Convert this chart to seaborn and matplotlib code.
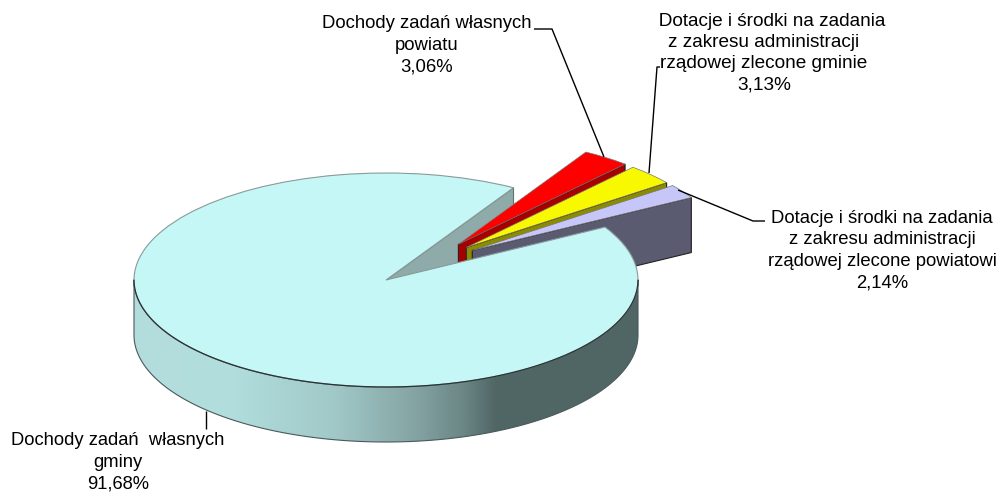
import numpy as np
import matplotlib
matplotlib.use("Agg")
import matplotlib.pyplot as plt
from matplotlib.patches import Wedge, Polygon
from matplotlib.colors import LinearSegmentedColormap
import seaborn as sns

# --- data ---
labels = [
    "Dochody zadań  własnych\ngminy",
    "Dochody zadań własnych\npowiatu",
    "   Dotacje i środki na zadania\nz zakresu administracji\nrządowej zlecone gminie",
    "Dotacje i środki na zadania\nz zakresu administracji\nrządowej zlecone powiatowi",
]
values = [91.68, 3.06, 3.13, 2.14]
value_text = ["91,68%", "3,06%", "3,13%", "2,14%"]

# --- style ---
top_colors = ["#c4f7f6", "#ff0000", "#f8f800", "#c6c6f8"]
side_colors = ["#8eabaa", "#a80000", "#8c8c00", "#5a5a70"]
wall_stops = [(0.0, "#b4dcdc"), (0.19, "#b2dede"), (0.40, "#a0c8c7"),
              (0.55, "#86a6a5"), (0.65, "#6c8887"), (0.72, "#506665"), (1.0, "#506665")]
label_sizes = [13.2, 13.3, 13.7, 13.35]
sns.set_theme(style="white")
plt.rcParams["font.family"] = ["Liberation Sans", "DejaVu Sans"]

W, H = 1003, 492
CX, CY, RX, RY, DEPTH = 386, 280, 252, 107, 55
START = 59.6            # main slice's upper cut, degrees
EXPLODE = 0.44
depth = DEPTH / RY


def px(x, y):
    return (x - CX) / RX, (CY - y) / RY


fig = plt.figure(figsize=(W / 100, H / 100), dpi=100)
ax = fig.add_axes([0, 0, 1, 1])
x0, y1 = px(0, 0)
x1, y0 = px(W, H)
lw = 0.8

# slice angles from the values
sweeps = 3.6 * np.array(values)
small_bounds = START - np.concatenate([[0], np.cumsum(sweeps[1:])])
main_from, main_to = START, START + sweeps[0]

# cut wall of the main slice, behind the exploded slices
a = np.radians(START)
ax.add_patch(Polygon([(0, 0), (np.cos(a), np.sin(a)), (np.cos(a), np.sin(a) - depth), (0, -depth)],
                     fc=side_colors[0], ec="#5f7574", lw=lw, zorder=1))

# exploded slices, back to front
for i in range(3):
    hi, lo = small_bounds[i], small_bounds[i + 1]
    mid = (hi + lo) / 2
    direction = np.radians(43.8 + 0.5 * (mid - 43.2))
    cx, cy = EXPLODE * np.cos(direction), EXPLODE * np.sin(direction)
    b = np.radians(lo)
    tip = (cx + np.cos(b), cy + np.sin(b))
    z = 2 + i * 2
    ax.add_patch(Polygon([(cx, cy), tip, (tip[0], tip[1] - depth), (cx, cy - depth)],
                         fc=side_colors[i + 1], ec="#222222", lw=lw, zorder=z))
    ax.add_patch(Wedge((cx, cy), 1, lo, hi, fc=top_colors[i + 1], ec="#777777", lw=0.5, zorder=z + 1))

# outer wall of the main slice with its shading
theta = np.radians(np.linspace(180, 360, 241))
wall_xy = np.vstack([np.c_[np.cos(theta), np.sin(theta)],
                     np.c_[np.cos(theta[::-1]), np.sin(theta[::-1]) - depth]])
wall = Polygon(wall_xy, fc="none", ec="#4a5a5a", lw=lw, zorder=11)
ax.add_patch(wall)
cmap = LinearSegmentedColormap.from_list("wall", wall_stops)
im = ax.imshow(np.linspace(0, 1, 512)[None, :], cmap=cmap, vmin=0, vmax=1, aspect="auto",
               extent=(-1, 1, -1 - depth, 0), origin="lower", zorder=10)
im.set_clip_path(wall)

# top of the main slice: grey rim at the back, dark rim along the front
ax.add_patch(Wedge((0, 0), 1, main_from, main_to, fc=top_colors[0], ec="#8a9a9a", lw=0.8, zorder=12))
ax.plot(np.cos(theta), np.sin(theta), color="#2a3333", lw=0.9, zorder=12.5)

# leader lines
leaders = [
    [(206, 411), (206, 429)],
    [(534, 29), (552, 29), (604, 157)],
    [(660, 67), (657, 67), (649, 173)],
    [(678, 190), (753, 221), (765, 221)],
]
for path in leaders:
    xs, ys = zip(*[px(*p) for p in path])
    ax.plot(xs, ys, color="black", lw=1.0, zorder=13, solid_capstyle="butt")

# labels
anchors = [(118, 462.5), (427, 45.5), (764, 53), (882, 250.5)]
for text, pct, size, (lx, ly) in zip(labels, value_text, label_sizes, anchors):
    x, y = px(lx, ly)
    ax.text(x, y, f"{text}\n{pct}", ha="center", va="center", fontsize=size,
            color="black", linespacing=18.1 / size, zorder=14)

ax.set_xlim(x0, x1)
ax.set_ylim(y0, y1)
ax.axis("off")
fig.savefig("out.png", dpi=100, facecolor="white")
